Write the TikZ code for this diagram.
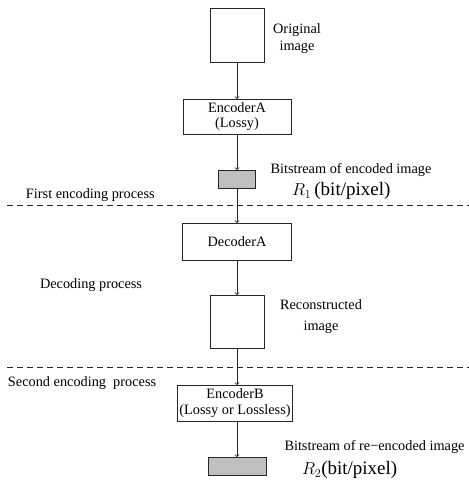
\documentclass[tikz,border=0pt]{standalone}
\usepackage{fontspec}
\setmainfont{Liberation Serif}
\begin{document}
\begin{tikzpicture}[x=1pt,y=-1pt,
  every node/.style={inner sep=0pt,outer sep=0pt,font=\fontsize{14.3}{16}\selectfont},
  blk/.style={draw=black!85,line width=0.8pt,align=center},
  bits/.style={draw=black!85,line width=0.8pt,fill=black!25},
  lbl/.style={align=center},
  rate/.style={anchor=west,font=\fontsize{17}{19}\selectfont},
  flow/.style={draw=black!85,line width=0.8pt,->},
  sep/.style={draw=black!85,line width=0.8pt,dash pattern=on 6pt off 4pt}]
\useasboundingbox (0,0) rectangle (469,483);
% boxes
\node[blk,minimum width=54pt,minimum height=54pt] (orig) at (237,35) {};
\node[blk,minimum width=108pt,minimum height=35pt] (encA) at (237,116.5) {EncoderA\\[-0.5pt](Lossy)};
\node[bits,minimum width=37pt,minimum height=18pt] (b1) at (237,179) {};
\node[blk,minimum width=109pt,minimum height=37pt] (decA) at (237,241.5) {DecoderA};
\node[blk,minimum width=54pt,minimum height=53pt] (rec) at (237,321.5) {};
\node[blk,minimum width=115pt,minimum height=36pt] (encB) at (235,403) {EncoderB\\[-0.5pt](Lossy or Lossless)};
\node[bits,minimum width=58pt,minimum height=18pt] (b2) at (237,466) {};
% connectors
\draw[flow] (orig.south) -- (encA.north);
\draw[flow] (encA.south) -- (b1.north);
\draw[flow] (b1.south) -- (decA.north);
\draw[flow] (decA.south) -- (rec.north);
\draw[flow] (rec.south) -- (rec.south |- encB.north);
\draw[flow] (encB.south -| b2.north) -- (b2.north);
% separators
\coordinate (s1l) at (7,205); \coordinate (s1r) at (469,205);
\coordinate (s2l) at (7,367); \coordinate (s2r) at (469,367);
\draw[sep] (s1l) -- (s1r);
\draw[sep] (s2l) -- (s2r);
% labels
\node[lbl] (lorig) at (297,38.5) {Original\\[1pt]image};
\node[lbl] (lb1) at (351,170) {Bitstream of encoded image};
\node[rate] (lr1) at (292,191) {$R_1${\fontsize{19}{20}\selectfont\,(bit/pixel)}};
\node[anchor=west] (lfirst) at (26,195) {First encoding process};
\node[anchor=west] (ldec) at (40,285) {Decoding process};
\node[lbl] (lrec) at (321,316.5) {Reconstructed\\[5pt]image};
\node[anchor=west] (lsecond) at (8,383) {Second encoding\ \ process};
\node[lbl] (lb2) at (374.5,447) {Bitstream of re−encoded image};
\node[rate] (lr2) at (302,470) {$R_2${\fontsize{19}{20}\selectfont(bit/pixel)}};
\end{tikzpicture}
\end{document}
